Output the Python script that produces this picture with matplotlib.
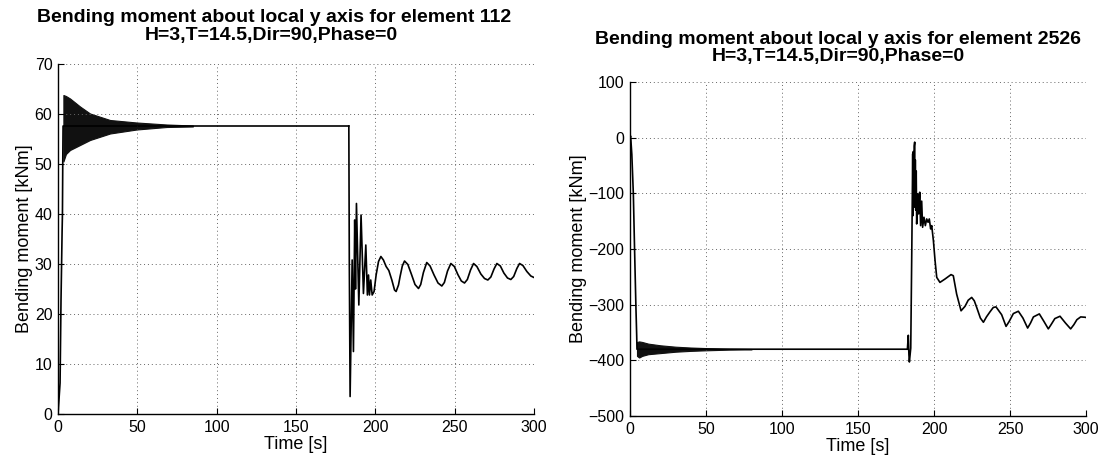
import numpy as np
import matplotlib
matplotlib.use("Agg")
import matplotlib.pyplot as plt

plt.rcParams['font.family'] = ['Liberation Sans', 'DejaVu Sans']

# ---- element 112 (left) ----
l_rise_t = [0, 0.6, 1.3, 1.9, 2.6, 2.8, 3.0, 3.2, 85.0, 183.3]
l_rise_v = [0, 2.8, 6.2, 22.8, 36.8, 40.0, 50.2, 57.6, 57.6, 57.6]
# envelope of the dense start-up oscillation
l_band_t = [3.4, 5.0, 7.6, 13.9, 20.2, 32.8, 49.6, 68.5, 85.0]
l_band_hi = [63.8, 63.6, 63.1, 61.5, 60.1, 58.8, 58.3, 57.9, 57.7]
l_band_lo = [50.5, 52.0, 52.8, 53.8, 54.8, 56.1, 56.9, 57.4, 57.5]
l_tail_t = [183.3, 183.6, 184.1, 185.4, 186.2, 187.0, 187.5, 188.1, 189.6, 191.0,
            192.5, 194.0, 195.0, 195.7, 196.3, 197.1, 198.0, 199.2, 200.5, 202.0,
            203.5, 205.1, 206.8, 208.5, 210.4, 212.1, 213.1, 214.6, 215.6, 217.0,
            218.4, 220.5, 222.8, 225.0, 227.2, 228.6, 230.3, 232.4, 234.5, 237.0,
            239.5, 241.9, 243.5, 245.5, 247.6, 249.8, 252.0, 254.2, 256.2, 258.0,
            260.0, 261.9, 264.0, 266.5, 268.8, 270.9, 272.8, 274.8, 276.6, 278.8,
            281.0, 283.3, 285.4, 287.2, 289.2, 290.9, 293.0, 295.5, 298.0, 300.0]
l_tail_v = [57.6, 30.0, 3.5, 30.8, 12.5, 38.8, 25.0, 42.1, 21.8, 39.8,
            24.1, 33.8, 23.8, 27.8, 23.8, 26.8, 23.8, 24.5, 27.8, 30.5,
            31.5, 30.8, 29.5, 28.7, 26.8, 24.8, 24.5, 25.8, 27.5, 29.6,
            30.6, 29.9, 27.9, 25.9, 25.1, 25.9, 28.3, 30.3, 29.6, 27.8,
            26.2, 25.6, 26.3, 28.6, 30.1, 29.5, 27.9, 26.6, 26.2, 26.9,
            28.8, 30.1, 29.5, 28.0, 27.1, 26.8, 27.4, 29.0, 30.1, 29.6,
            28.2, 27.2, 26.9, 27.5, 29.1, 30.1, 29.7, 28.5, 27.6, 27.3]

# ---- element 2526 (right) ----
r_rise_t = [0, 0.4, 1.2, 2.2, 3.0, 3.9, 4.4, 4.6, 80.0, 182.5]
r_rise_v = [0, 3, -30, -101, -200, -305, -355, -380, -380, -380]
r_band_t = [4.6, 6.0, 8.0, 12.0, 20.0, 30.0, 40.0, 50.0, 65.0, 80.0]
r_band_hi = [-367, -366, -367, -370, -373, -375.5, -377, -378, -379.2, -379.7]
r_band_lo = [-392, -395, -392, -389, -387, -384.5, -383, -382, -380.8, -380.3]
r_tail_t = [182.5, 183.1, 183.5, 183.8, 184.2, 184.7, 185.4, 186.0, 186.2, 186.4,
            186.8, 187.0, 187.3, 187.5, 187.7, 188.0, 188.3, 188.6, 189.3, 189.9,
            190.6, 191.2, 191.9, 192.5, 193.4, 194.3, 195.2, 196.1, 196.9, 197.8,
            198.5, 199.6, 200.7, 201.8, 203.9, 207.2, 211.2, 212.7, 214.9, 217.8,
            220.4, 222.5, 224.8, 226.5, 228.1, 230.5, 232.5, 234.5, 236.8, 239.0,
            240.8, 244.5, 247.4, 249.5, 252.2, 255.5, 258.5, 261.6, 263.5, 265.4,
            269.3, 272.3, 275.2, 277.0, 279.5, 282.9, 286.5, 289.9, 292.0, 294.0,
            296.5, 299.3, 300.0]
r_tail_v = [-380, -355, -390, -403, -392, -378, -200, -29, -140, -25,
            -125, -15, -8, -120, -40, -130, -60, -155, -101, -137,
            -98, -158, -114, -161, -143, -158, -146, -152, -146, -164,
            -158, -185, -221, -251, -260, -254, -246, -248, -281, -311,
            -303, -292, -287, -293, -305, -324, -331.6, -322, -313, -305,
            -304, -318, -339, -330, -316, -311.8, -324, -342, -333, -322,
            -316.6, -330, -343.5, -336, -325, -320.8, -333, -343.5, -336, -327,
            -322, -322.6, -323]

W, H = 1118, 459
fig = plt.figure(figsize=(W / 100, H / 100), dpi=100)


def px_axes(x0, x1, y0, y1):
    return fig.add_axes([x0 / W, 1 - y1 / H, (x1 - x0) / W, (y1 - y0) / H])


def style(ax, yl, yticks, xlab_y):
    ax.set_xlim(0, 300)
    ax.set_ylim(*yl)
    ax.set_xticks(np.arange(0, 301, 50))
    ax.set_yticks(yticks)
    ax.grid(True, linestyle=(0, (1, 3)), color='0.4', lw=0.7)
    for s in ('top', 'right'):
        ax.spines[s].set_visible(False)
    for s in ('left', 'bottom'):
        ax.spines[s].set_linewidth(1.0)
    ax.tick_params(direction='in', length=4, width=0.8, labelsize=11.5, pad=4)
    ax.set_xlabel('Time [s]', fontsize=13)
    ax.xaxis.set_label_coords(0.5, xlab_y)
    ax.set_ylabel('Bending moment [kNm]', fontsize=13, labelpad=1)


axL = px_axes(58, 534, 64, 414)
axL.fill_between(l_band_t, l_band_lo, l_band_hi, color='#111111', lw=0.8)
axL.plot(l_rise_t, l_rise_v, color='k', lw=1.2)
axL.plot(l_tail_t, l_tail_v, color='k', lw=1.2)
style(axL, (0, 70), np.arange(0, 71, 10), -0.063)

axR = px_axes(630, 1086, 82, 416)
axR.fill_between(r_band_t, r_band_lo, r_band_hi, color='#111111', lw=0.8)
axR.plot(r_rise_t, r_rise_v, color='k', lw=1.2)
axR.plot(r_tail_t, r_tail_v, color='k', lw=1.2)
style(axR, (-500, 100), np.arange(-500, 101, 100), -0.066)

tk = dict(ha='center', va='center', fontsize=14, fontweight='bold')
fig.text(274 / W, 1 - 17.5 / H, 'Bending moment about local y axis for element 112', **tk)
fig.text(271 / W, 1 - 35.5 / H, 'H=3,T=14.5,Dir=90,Phase=0', **tk)
fig.text(838 / W, 1 - 39.5 / H, 'Bending moment about local y axis for element 2526', **tk)
fig.text(838 / W, 1 - 57 / H, 'H=3,T=14.5,Dir=90,Phase=0', **tk)

fig.savefig('out.png', dpi=100)
